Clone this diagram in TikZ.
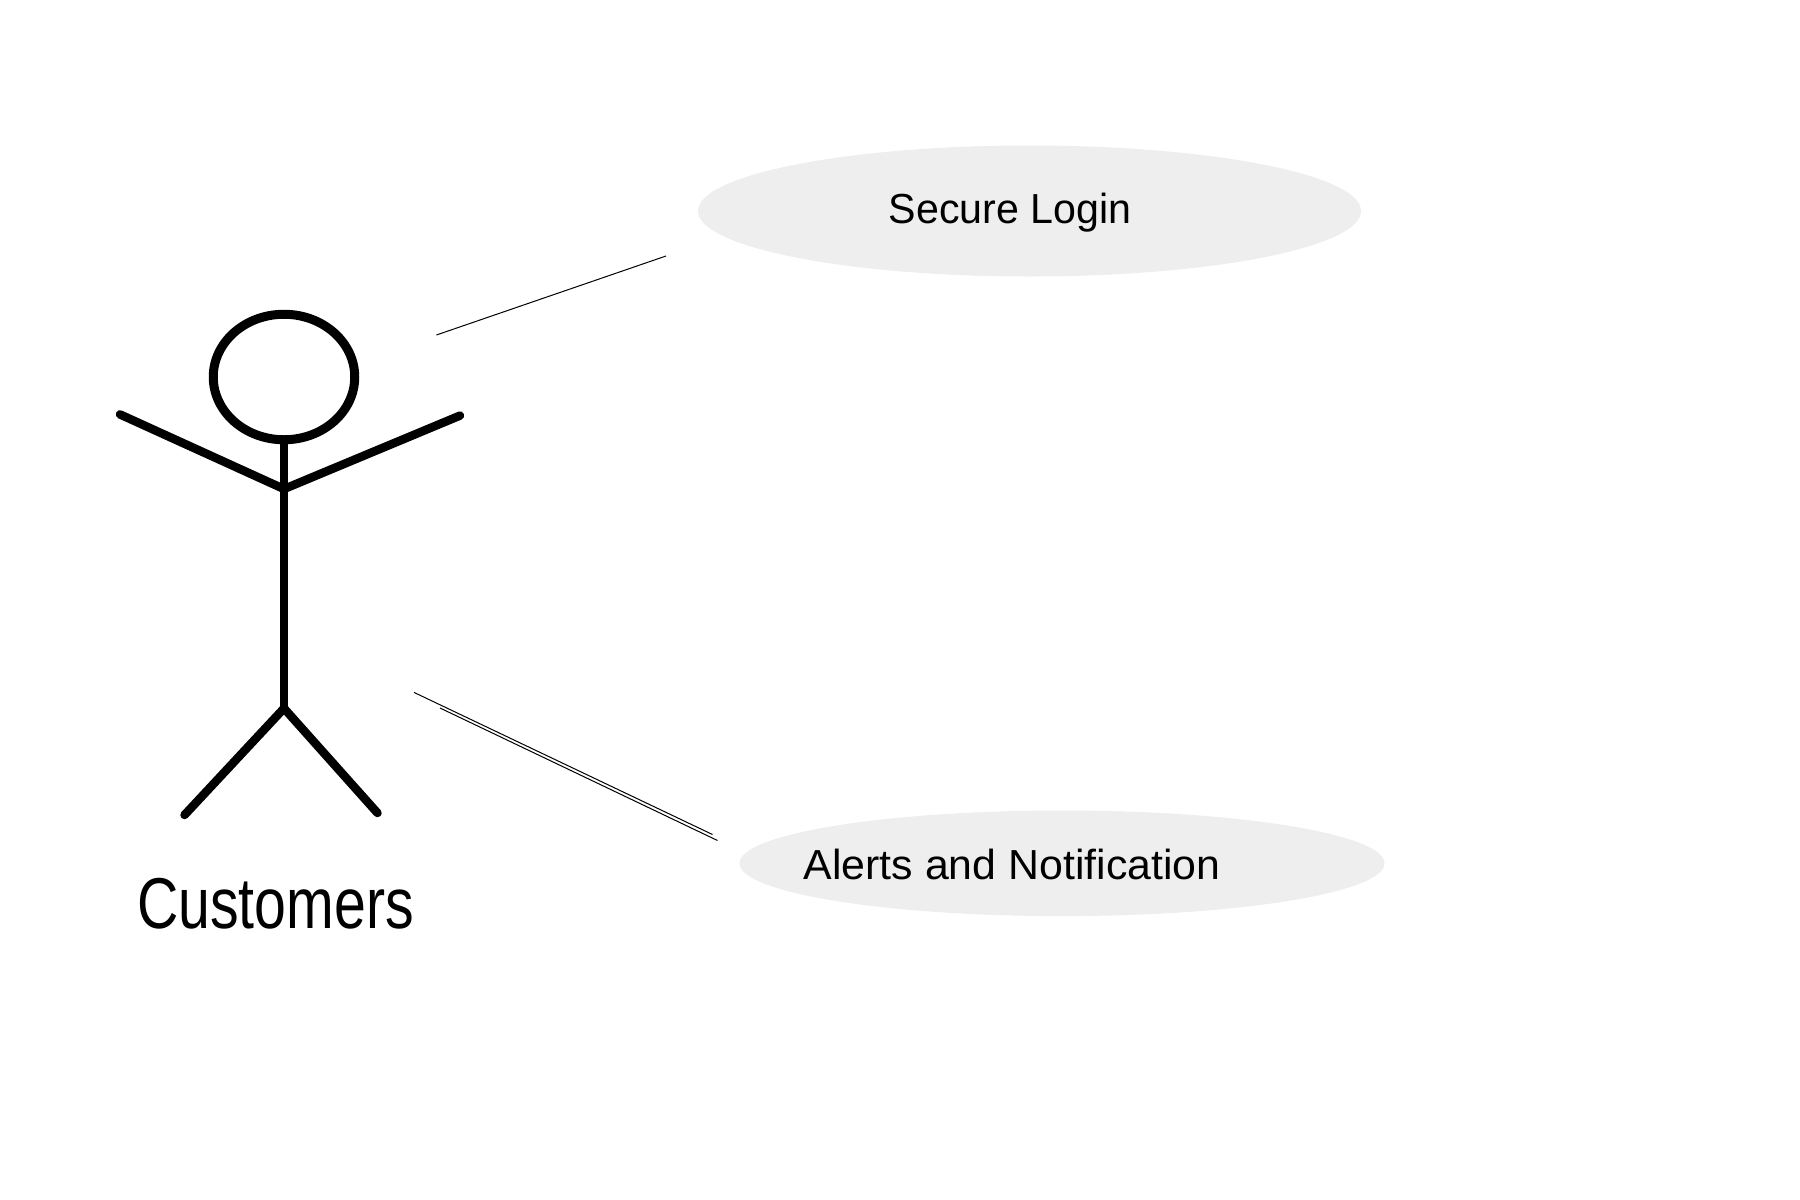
\documentclass[tikz,border=0pt]{standalone}
\usepackage{fontspec}
\setmainfont{Liberation Sans}
\usetikzlibrary{shapes.geometric}
\definecolor{usefill}{HTML}{EEEEEE}
\tikzset{
  x=1pt,y=-1pt,
  usecase/.style={ellipse,fill=usefill,draw=none,inner sep=0pt},
  stick/.style={line width=8.5pt,line cap=round,line join=round,black},
  thinlink/.style={line width=1pt,black},
  label/.style={anchor=base west,inner sep=0pt,text=black},
}
\begin{document}
\begin{tikzpicture}
\useasboundingbox[fill=white] (0,0) rectangle (1800,1200);
% use cases
\node[usecase,minimum width=663pt,minimum height=131pt] (login) at (1029.5,211) {};
\node[usecase,minimum width=645pt,minimum height=105.6pt] (alerts) at (1062,863.3) {};
\node[label,font=\fontsize{42}{50}\selectfont,xscale=0.98] (logintext) at (888.6,223.7) {Secure Login};
\node[label,font=\fontsize{42}{50}\selectfont,xscale=1.02] (alertstext) at (803.6,879.5) {Alerts and Notification};
% actor
\node[ellipse,draw=black,line width=9pt,inner sep=0pt,minimum width=141.5pt,minimum height=125.5pt] (head) at (284,377) {};
\coordinate (hip) at (284,708.3);
\coordinate (neck) at (284,489);
\coordinate (handl) at (120,414.4);
\coordinate (handr) at (460,415.6);
\coordinate (footl) at (184.5,815);
\coordinate (footr) at (377.5,813);
\draw[stick] (head.south) -- (hip);
\draw[stick] (handl) -- (neck) -- (handr);
\draw[stick] (footl) -- (hip) -- (footr);
\node[label,font=\fontsize{72}{80}\selectfont,xscale=0.795] (actor) at (137,928) {Customers};
% connectors
\coordinate (a1) at (436.4,335);
\coordinate (a2) at (666,256);
\coordinate (b1) at (414,692.4);
\coordinate (b2) at (712.5,834.5);
\coordinate (c1) at (440,708);
\coordinate (c2) at (717.5,840.5);
\draw[thinlink] (a1) -- (a2);
\draw[thinlink] (b1) -- (b2);
\draw[thinlink] (c1) -- (c2);
\end{tikzpicture}
\end{document}
